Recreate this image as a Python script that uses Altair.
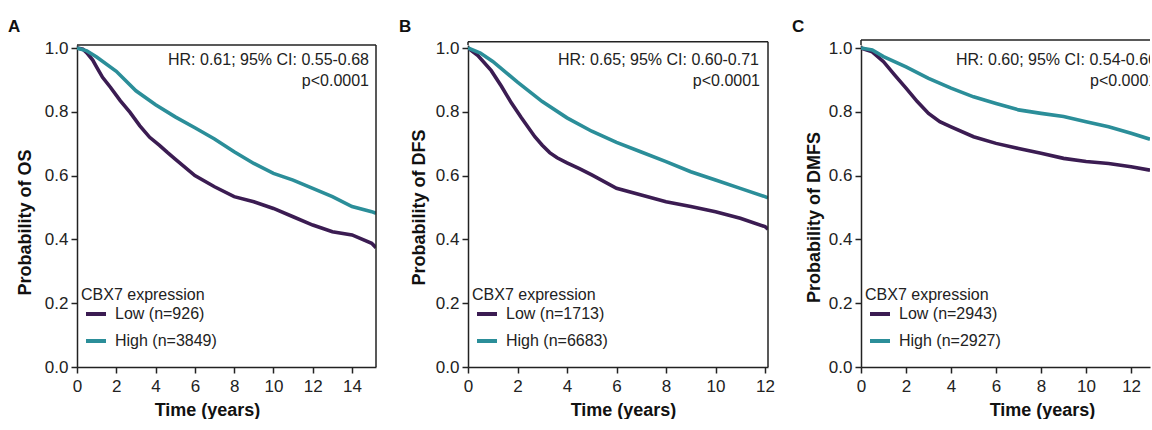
import altair as alt
import pandas as pd

PURPLE = "#3b1c52"
TEAL = "#2b8e99"
INK = "#222222"
FONT = "Liberation Sans"

# ---------------- Panel A: OS ----------------
a_low_t = [0, 0.3, 0.5, 0.8, 1.0, 1.3, 1.7, 2.2, 2.7, 3.2, 3.7, 4.2, 4.6, 5, 6, 7, 8, 9, 10, 11, 12, 13, 14, 15, 15.22]
a_low_s = [1.0, 0.996, 0.985, 0.962, 0.94, 0.908, 0.877, 0.835, 0.798, 0.756, 0.72, 0.695, 0.673, 0.652, 0.600, 0.565, 0.534, 0.518, 0.497, 0.471, 0.445, 0.424, 0.414, 0.388, 0.374]
a_high_t = [0, 0.5, 1, 2, 3, 4, 5, 6, 7, 8, 9, 10, 11, 12, 13, 14, 15, 15.22]
a_high_s = [1.0, 0.991, 0.972, 0.927, 0.866, 0.822, 0.784, 0.750, 0.715, 0.675, 0.638, 0.607, 0.586, 0.560, 0.534, 0.503, 0.487, 0.482]

# ---------------- Panel B: DFS ----------------
b_low_t = [0, 0.4, 0.94, 1.35, 1.75, 2.15, 2.7, 3.0, 3.3, 3.6, 4, 4.5, 5, 6, 7, 8, 9, 10, 11, 12, 12.12]
b_low_s = [1.0, 0.976, 0.929, 0.880, 0.828, 0.782, 0.722, 0.695, 0.672, 0.656, 0.640, 0.622, 0.602, 0.560, 0.539, 0.518, 0.503, 0.487, 0.466, 0.440, 0.432]
b_high_t = [0, 0.5, 1, 2, 3, 4, 5, 6, 7, 8, 9, 10, 11, 12, 12.12]
b_high_s = [1.0, 0.984, 0.958, 0.893, 0.832, 0.781, 0.739, 0.704, 0.674, 0.644, 0.612, 0.586, 0.560, 0.534, 0.530]

# ---------------- Panel C: DMFS ----------------
c_low_t = [0, 0.5, 1.0, 1.5, 2.0, 2.5, 3.0, 3.5, 4, 5, 6, 7, 8, 9, 10, 11, 12, 12.84]
c_low_s = [1.0, 0.988, 0.957, 0.915, 0.874, 0.832, 0.795, 0.769, 0.753, 0.722, 0.701, 0.685, 0.670, 0.654, 0.644, 0.638, 0.628, 0.617]
c_high_t = [0, 0.5, 1, 2, 3, 4, 5, 6, 7, 8, 9, 10, 11, 12, 12.84]
c_high_s = [1.0, 0.994, 0.973, 0.941, 0.905, 0.874, 0.847, 0.826, 0.806, 0.795, 0.785, 0.769, 0.753, 0.733, 0.714]

letters = ["A", "B", "C"]
y_titles = ["Probability of OS", "Probability of DFS", "Probability of DMFS"]
low_labels = ["Low (n=926)", "Low (n=1713)", "Low (n=2943)"]
high_labels = ["High (n=3849)", "High (n=6683)", "High (n=2927)"]
hr_texts = ["HR: 0.61; 95% CI: 0.55-0.68", "HR: 0.65; 95% CI: 0.60-0.71", "HR: 0.60; 95% CI: 0.54-0.66"]
p_texts = ["p<0.0001", "p<0.0001", "p<0.0001"]
x_ticks = [[0, 2, 4, 6, 8, 10, 12, 14], [0, 2, 4, 6, 8, 10, 12], [0, 2, 4, 6, 8, 10, 12]]
y_ticks = [0.0, 0.2, 0.4, 0.6, 0.8, 1.0]
legend_title = "CBX7 expression"
x_title = "Time (years)"

TOP = 45
HEIGHT = 322
YMAX = HEIGHT / 319.0


def panel(i, lt, ls, ht, hs, xmax, width, frame_top, ypad, ytitle_y, xtitle_x, right_frame,
          hr_x, hr_align, text_clip):
    ft = frame_top - TOP  # frame top relative to plot origin (<= 0)
    df = pd.concat([
        pd.DataFrame({"t": lt, "s": ls, "group": low_labels[i]}),
        pd.DataFrame({"t": ht, "s": hs, "group": high_labels[i]}),
    ])
    lines = alt.Chart(df).mark_line(strokeWidth=3.6, clip=True).encode(
        x=alt.X("t:Q", scale=alt.Scale(domain=[0, xmax], nice=False, zero=False),
                axis=alt.Axis(values=x_ticks[i], title=x_title, titleX=xtitle_x, titleY=48,
                              titleBaseline="alphabetic", labelFlush=False)),
        y=alt.Y("s:Q", scale=alt.Scale(domain=[0, YMAX], nice=False),
                axis=alt.Axis(values=y_ticks, format=".1f", title=y_titles[i],
                              titlePadding=ypad, titleY=ytitle_y)),
        color=alt.Color("group:N",
                        scale=alt.Scale(domain=[low_labels[i], high_labels[i]], range=[PURPLE, TEAL]),
                        legend=alt.Legend(title=legend_title, orient="none", legendX=4, legendY=287 - TOP,
                                          symbolType="stroke", symbolSize=400, symbolStrokeWidth=4,
                                          symbolOffset=3, labelOffset=7, rowPadding=7, titlePadding=-1,
                                          titleFontSize=16, titleFontWeight="normal", labelFontSize=16,
                                          titleColor=INK, labelColor=INK, titleFont=FONT, labelFont=FONT,
                                          padding=0)),
        order=alt.Order("t:Q"),
    )
    one = pd.DataFrame({"hr": [hr_texts[i]], "p": [p_texts[i]], "letter": [letters[i]]})
    base = alt.Chart(one)
    layers = [lines]
    layers.append(base.mark_rule(color=INK, strokeWidth=1.5).encode(
        x=alt.value(0), x2=alt.value(width), y=alt.value(ft)))
    if ft < 0:
        layers.append(base.mark_rule(color=INK, strokeWidth=1.5).encode(
            x=alt.value(0), y=alt.value(ft), y2=alt.value(0)))
    if right_frame:
        layers.append(base.mark_rule(color=INK, strokeWidth=1.5).encode(
            x=alt.value(width), y=alt.value(ft), y2=alt.value(HEIGHT)))
    hr = base.mark_text(align=hr_align, baseline="alphabetic", fontSize=16, font=FONT, color=INK,
                        clip=text_clip).encode(
        x=alt.value(hr_x[0]), y=alt.value(65 - TOP), text="hr:N")
    pv = base.mark_text(align=hr_align, baseline="alphabetic", fontSize=16, font=FONT, color=INK,
                        clip=text_clip).encode(
        x=alt.value(hr_x[1]), y=alt.value(86 - TOP), text="p:N")
    letter = base.mark_text(align="left", baseline="alphabetic", fontSize=17, fontWeight="bold",
                            font=FONT, color="#111111").encode(
        x=alt.value(-69), y=alt.value(32 - TOP), text="letter:N")
    layers += [hr, pv, letter]
    return alt.layer(*layers).properties(width=width, height=HEIGHT)


pa = panel(0, a_low_t, a_low_s, a_high_t, a_high_s, 15.22, 299, 45, 10, 177, 130, True,
           (292, 292), "right", False)
pb = panel(1, b_low_t, b_low_s, b_high_t, b_high_s, 12.12, 300, 41.7, 7, 162, 155, True,
           (291, 292), "right", False)
pc = panel(2, c_low_t, c_low_s, c_high_t, c_high_s, 12.84, 289, 40, 5, 172, 181, False,
           (95, 229), "left", True)

inner = alt.hconcat(pb, pc, spacing=17).resolve_scale(color="independent")
chart = alt.hconcat(pa, inner, spacing=22).resolve_scale(color="independent").properties(
    padding={"left": 8, "top": 18, "right": 0, "bottom": 0},
    background="white",
).configure_view(stroke=None).configure_axis(
    grid=False,
    labelFont=FONT, labelFontSize=17, labelColor=INK,
    titleFont=FONT, titleFontSize=18, titleFontWeight="bold", titleColor="#111111",
    domainColor=INK, domainWidth=1.5, tickColor=INK, tickWidth=1.5, tickSize=6,
    labelPadding=3,
).configure_axisX(labelPadding=5)

chart.save("out.html", embed_options={"renderer": "svg", "actions": False})
